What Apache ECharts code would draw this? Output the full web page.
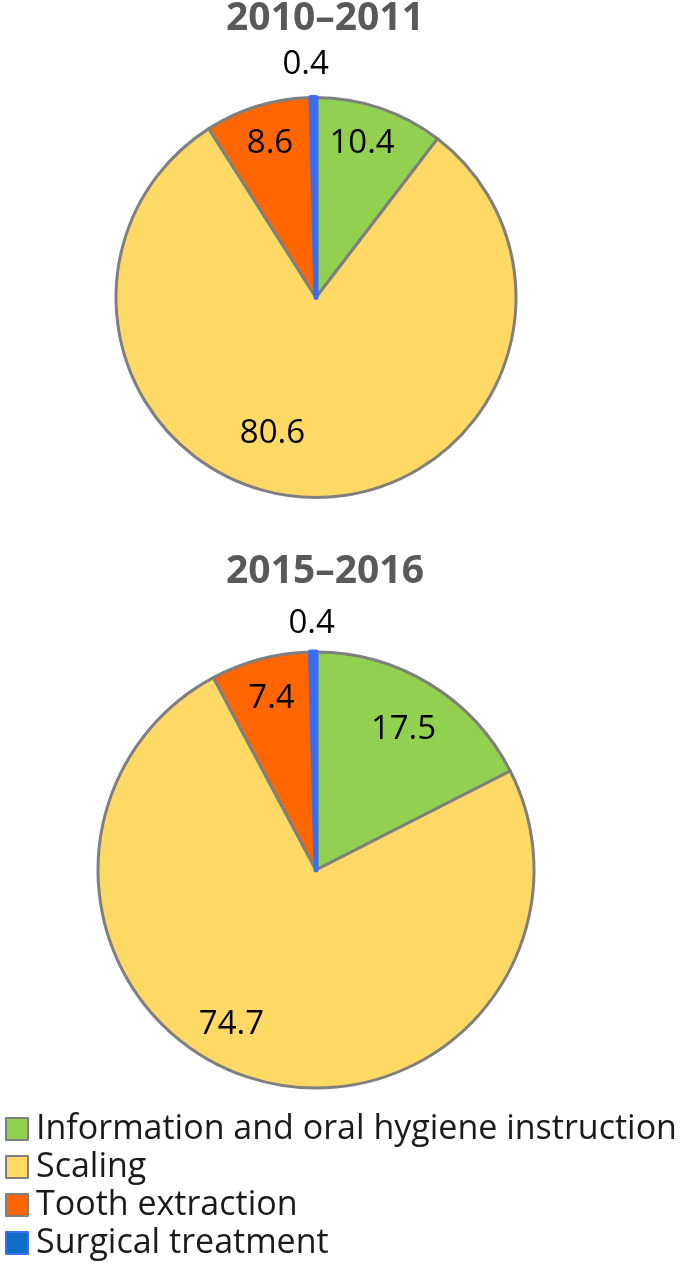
<!DOCTYPE html>
<html>
<head>
<meta charset="utf-8">
<script src="https://cdn.jsdelivr.net/npm/echarts@6/dist/echarts.min.js"></script>
<style>
  html, body { margin: 0; padding: 0; background: #fff; }
  #chart { width: 689px; height: 1280px; }
</style>
</head>
<body>
<div id="chart"></div>
<script>
// Share of treatments (%), two survey periods
const categories = ['Information and oral hygiene instruction', 'Scaling', 'Tooth extraction', 'Surgical treatment']
const periods = ['2010–2011', '2015–2016']
const values2010 = [10.4, 80.6, 8.6, 0.4]
const values2015 = [17.5, 74.7, 7.4, 0.4]

const colors = ['#92d050', '#ffd966', '#ff6600', '#0f6fc6']
const borders = ['#7f7f7f', '#7f7f7f', '#7f7f7f', '#3a6ef2']
const fontFamily = '"Open Sans", "Noto Sans", sans-serif'

// nudges from the default inside spot to where the original puts each label
const labelShift2010 = [[13, -56], [-39, 33], [-16, -55], [-9, -130]]
const labelShift2015 = [[29, -45], [-51, 48], [-16, -63], [-3, -134]]

function pieSeries(values, shifts, center, radius) {
  return {
    type: 'pie',
    center,
    radius,
    startAngle: 90,
    clockwise: true,
    silent: true,
    label: { show: true, position: 'inside', color: '#000', fontSize: 33, fontFamily, formatter: p => p.value.toFixed(1) },
    labelLine: { show: false },
    data: values.map((v, i) => ({
      name: categories[i],
      value: v,
      itemStyle: { color: colors[i], borderColor: borders[i], borderWidth: i === 3 ? 5 : 3 },
      label: { offset: shifts[i] }
    }))
  }
}

const titleStyle = { color: '#595959', fontSize: 39, fontWeight: 'bold', fontFamily }

const chart = echarts.init(document.getElementById('chart'))
chart.setOption({
  animation: false,
  title: [
    { text: periods[0], left: 320, top: -6, textAlign: 'center', textStyle: titleStyle },
    { text: periods[1], left: 320, top: 547, textAlign: 'center', textStyle: titleStyle }
  ],
  legend: {
    orient: 'vertical',
    left: 0,
    top: 1107,
    itemWidth: 22,
    itemHeight: 22,
    itemGap: 4,
    icon: 'rect',
    data: categories,
    textStyle: { color: '#1a1a1a', fontSize: 34, lineHeight: 34, fontFamily, padding: [0, 0, 0, 3] }
  },
  series: [
    pieSeries(values2010, labelShift2010, [316, 297.5], 200),
    pieSeries(values2015, labelShift2015, [316, 870], 218)
  ]
})
</script>
</body>
</html>
